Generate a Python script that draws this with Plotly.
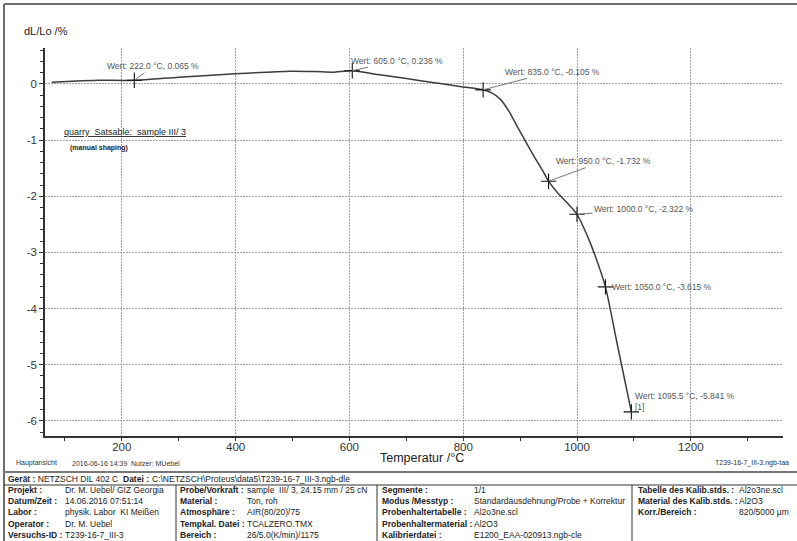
import plotly.graph_objects as go

# ---------------- data ----------------
temperature = [77, 130, 160, 222, 300, 400, 495, 540, 571, 605, 650, 700, 750, 800, 835,
               850, 865, 880, 895, 910, 925, 940, 950, 965, 980, 1000, 1020, 1035, 1050,
               1070, 1095.5]
dl_lo = [0.03, 0.055, 0.065, 0.065, 0.12, 0.18, 0.225, 0.22, 0.21, 0.236, 0.169, 0.095,
         0.021, -0.053, -0.105, -0.16, -0.27, -0.48, -0.76, -1.03, -1.30, -1.55, -1.732,
         -1.93, -2.09, -2.322, -2.75, -3.15, -3.615, -4.6, -5.841]

marked_temps = [222.0, 605.0, 835.0, 950.0, 1000.0, 1050.0, 1095.5]
marked_values = [0.065, 0.236, -0.105, -1.732, -2.322, -3.615, -5.841]
marked_extra = ["", "", "", "", "", "", "<br>[1]"]

x_ticks = [200, 400, 600, 800, 1000, 1200]
x_tick_labels = ["200", "400", "600", "800", "1000", "1200"]
y_ticks = [0, -1, -2, -3, -4, -5, -6]
y_tick_labels = ["0", "-1", "-2", "-3", "-4", "-5", "-6"]

table_rows_col1 = [("Projekt :", "Dr. M. Uebel/ GIZ Georgia"),
                   ("Datum/Zeit :", "14.06.2016 07:51:14"),
                   ("Labor :", "physik. Labor  KI Meißen"),
                   ("Operator :", "Dr. M. Uebel"),
                   ("Versuchs-ID :", "T239-16-7_III-3")]
table_rows_col2 = [("Probe/Vorkraft :", "sample  III/ 3, 24.15 mm / 25 cN"),
                   ("Material :", "Ton, roh"),
                   ("Atmosphäre :", "AIR(80/20)/75"),
                   ("Tempkal. Datei :", "TCALZERO.TMX"),
                   ("Bereich :", "26/5.0(K/min)/1175")]
table_rows_col3 = [("Segmente :", "1/1"),
                   ("Modus /Messtyp :", "Standardausdehnung/Probe + Korrektur"),
                   ("Probenhaltertabelle :", "Al2o3ne.scl"),
                   ("Probenhaltermaterial :", "Al2O3"),
                   ("Kalibrierdatei :", "E1200_EAA-020913.ngb-cle")]
table_rows_col4 = [("Tabelle des Kalib.stds. :", "Al2o3ne.scl"),
                   ("Material des Kalib.stds. :", "Al2O3"),
                   ("Korr./Bereich :", "820/5000 µm")]

# ---------------- layout geometry ----------------
W, H = 797, 541
ML, MR, MT, MB = 45, 14, 48, 105
PW, PH = W - ML - MR, H - MT - MB


def px(x):
    return (x - ML) / PW


def py(y):
    return (H - MB - y) / PH


FONT = "Liberation Sans, Arial, sans-serif"

fig = go.Figure()
fig.add_trace(go.Scatter(x=temperature, y=dl_lo, mode="lines",
                         line=dict(color="#3c3c3c", width=1.5, shape="spline",
                                   smoothing=0.6),
                         hoverinfo="skip", showlegend=False))
fig.add_trace(go.Scatter(x=marked_temps, y=marked_values, mode="markers",
                         marker=dict(symbol="cross-thin", size=11,
                                     line=dict(color="#111", width=1.1)),
                         showlegend=False))

# label offsets (pixels) for the value labels
offsets = [(19, -14), (45, -10), (69, -18), (55, -20), (67, -5), (57, 0), (54, -10)]
for t, v, extra, (ax, ay) in zip(marked_temps, marked_values, marked_extra, offsets):
    fig.add_annotation(x=t, y=v, xref="x", yref="y", ax=ax, ay=ay,
                       text=f"Wert: {t:.1f} °C, {v:.3f} %" + extra,
                       showarrow=True, arrowhead=0, arrowwidth=1, arrowcolor="#777",
                       align="left", font=dict(family=FONT, size=8.5, color="#555"))


def txt(x, y, s, size=8.5, bold=False, color="#222", xanchor="left"):
    if bold:
        s = f"<b>{s}</b>"
    fig.add_annotation(x=px(x), y=py(y), xref="paper", yref="paper", text=s,
                       showarrow=False, xanchor=xanchor, yanchor="middle",
                       font=dict(family=FONT, size=size, color=color))


# axis titles
txt(22, 31, "dL/Lo /%", size=11, color="#222")
txt(378, 458, "Temperatur /°C", size=12.5, color="#222")

# sample description
nb = "\u00a0"
txt(62, 132, f"<u>quarry{nb}{nb}Satsable:{nb}{nb}sample{nb}III/{nb}3</u>", size=9, color="#222")
txt(68, 148, "(manual shaping)", size=7, bold=True, color="#222")

# footer info
txt(14, 463, "Hauptansicht", size=7, color="#333")
txt(70, 463, "2016-06-16 14:39", size=7, color="#333")
txt(129, 463, "Nutzer: MUebel", size=7, color="#333")
txt(791, 463, "T239-16-7_III-3.ngb-taa", size=7, color="#333", xanchor="right")

# table
txt(6, 479, "<b>Gerät :</b> NETZSCH DIL 402 C")
txt(121, 479, "Datei :", bold=True)
txt(150, 479, r"C:\NETZSCH\Proteus\data5\T239-16-7_III-3.ngb-dle")

row_y = [490, 501, 512, 524, 535]
cols = [(table_rows_col1, 6, 63), (table_rows_col2, 178, 245),
        (table_rows_col3, 380, 472), (table_rows_col4, 636, 737)]
for rows, lx, vx in cols:
    for (lab, val), yy in zip(rows, row_y):
        txt(lx, yy, lab, bold=True)
        txt(vx, yy, val)

# frame and table lines
shapes = []


def hline(y, x0, x1, color, width):
    shapes.append(dict(type="line", xref="paper", yref="paper", x0=px(x0), x1=px(x1),
                       y0=py(y), y1=py(y), line=dict(color=color, width=width)))


def vline(x, y0, y1, color, width):
    shapes.append(dict(type="line", xref="paper", yref="paper", x0=px(x), x1=px(x),
                       y0=py(y0), y1=py(y1), line=dict(color=color, width=width)))


hline(4, 4, 797, "#6e6e6e", 2)
vline(4, 4, 541, "#6e6e6e", 2)
hline(472, 4, 797, "#777", 2)
hline(485, 4, 797, "#333", 1)
vline(176, 485, 541, "#333", 1)
vline(377, 485, 541, "#333", 1)
vline(632, 485, 541, "#333", 1)

fig.update_layout(
    width=W, height=H, margin=dict(l=ML, r=MR, t=MT, b=MB),
    paper_bgcolor="white", plot_bgcolor="white", shapes=shapes,
    font=dict(family=FONT, color="#222"),
    xaxis=dict(range=[65, 1362], tickvals=x_ticks, ticktext=x_tick_labels,
               showgrid=True, gridcolor="#a0a0a0", griddash="2px,1px", gridwidth=1,
               showline=True, linecolor="#333", linewidth=2, zeroline=False,
               ticks="outside", ticklen=3, tickcolor="#333", ticklabelstandoff=-4,
               minor=dict(dtick=100, tick0=0, ticks="outside", ticklen=3,
                          tickcolor="#333", showgrid=False),
               tickfont=dict(size=11.5, color="#333", family=FONT)),
    yaxis=dict(range=[-6.27, 0.64], tickvals=y_ticks, ticktext=y_tick_labels,
               showgrid=True, gridcolor="#a0a0a0", griddash="2px,1px", gridwidth=1,
               showline=True, linecolor="#333", linewidth=1.5, zeroline=False,
               ticks="outside", ticklen=4, tickcolor="#333",
               minor=dict(dtick=0.2, tick0=0, ticks="outside", ticklen=3,
                          tickcolor="#333", showgrid=False),
               tickfont=dict(size=11.5, color="#333", family=FONT)),
)

fig.write_html("out.html", config={"displayModeBar": False},
               post_script="document.body.style.margin='0';document.body.style.overflow='hidden';")
